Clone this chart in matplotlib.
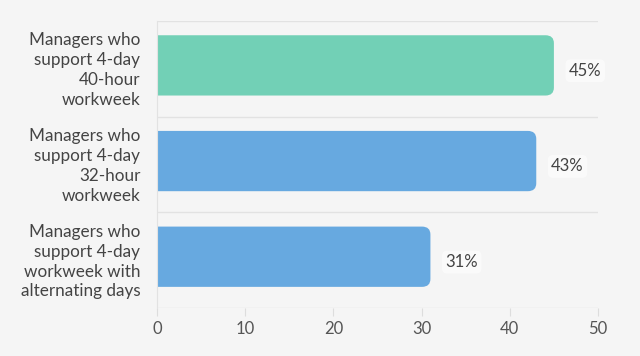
import matplotlib
matplotlib.use("Agg")
import matplotlib.pyplot as plt
import matplotlib.transforms as mtransforms
from matplotlib.patches import FancyBboxPatch

categories = [
    "Managers who\nsupport 4-day\n40-hour\nworkweek",
    "Managers who\nsupport 4-day\n32-hour\nworkweek",
    "Managers who\nsupport 4-day\nworkweek with\nalternating days",
]
values = [45, 43, 31]
colors = ["#72d0b6", "#67a9e0", "#67a9e0"]
xticks = [0, 10, 20, 30, 40, 50]

plt.rcParams['font.family'] = ['Lato', 'DejaVu Sans']
bg = "#f5f5f5"
fig = plt.figure(figsize=(6.4, 3.56), dpi=100, facecolor=bg)
ax = fig.add_axes([157/640, 1-308/356, (598-157)/640, (308-21)/356])
ax.set_facecolor(bg)

ypos = list(range(len(values)))
bh = 0.63
bars = ax.barh(ypos, values, height=bh, color=colors)
ax.set_xlim(0, 50)
ax.set_ylim(len(values) - 0.5, -0.5)

# replace bars with rounded versions (slightly above band centre as in the reference)
for b, c in zip(bars, colors):
    x0, y0 = b.get_x(), b.get_y()
    w, h = b.get_width(), b.get_height()
    b.set_visible(False)
    p = FancyBboxPatch((x0 - 2, y0 - 0.036), w + 2, h,
                       boxstyle="round,pad=0,rounding_size=0.95",
                       mutation_aspect=0.087, facecolor=c, edgecolor='none',
                       clip_on=True, zorder=2)
    ax.add_patch(p)

for y, v in zip(ypos, values):
    ax.text(v + 1.7, y + 0.02, f"{v}%", va='center', ha='left', fontsize=12,
            color="#444444", zorder=3,
            bbox=dict(boxstyle="round,pad=0.2,rounding_size=0.3",
                      facecolor="#ffffff", edgecolor='none', alpha=0.6))

# separators
for y in [-0.5, 0.5, 1.5, 2.5]:
    ax.axhline(y, color="#e2e2e2", lw=1, zorder=1)

for s in ['top', 'right', 'bottom']:
    ax.spines[s].set_visible(False)
ax.spines['left'].set_color("#e2e2e2")

ax.set_yticks(ypos)
ax.set_yticklabels(categories, fontsize=12.3, color="#444444", linespacing=1.3,
                   ha='right')
ax.tick_params(axis='y', length=0, pad=12)
offset = mtransforms.ScaledTranslation(0, 2/100, fig.dpi_scale_trans)
for lbl in ax.get_yticklabels():
    lbl.set_transform(lbl.get_transform() + offset)
ax.set_xticks(xticks)
ax.set_xticklabels([str(t) for t in xticks], fontsize=12, color="#555555")
ax.tick_params(axis='x', length=6, color="#dddddd", pad=3)

fig.savefig("out.png", dpi=100, facecolor=bg)
